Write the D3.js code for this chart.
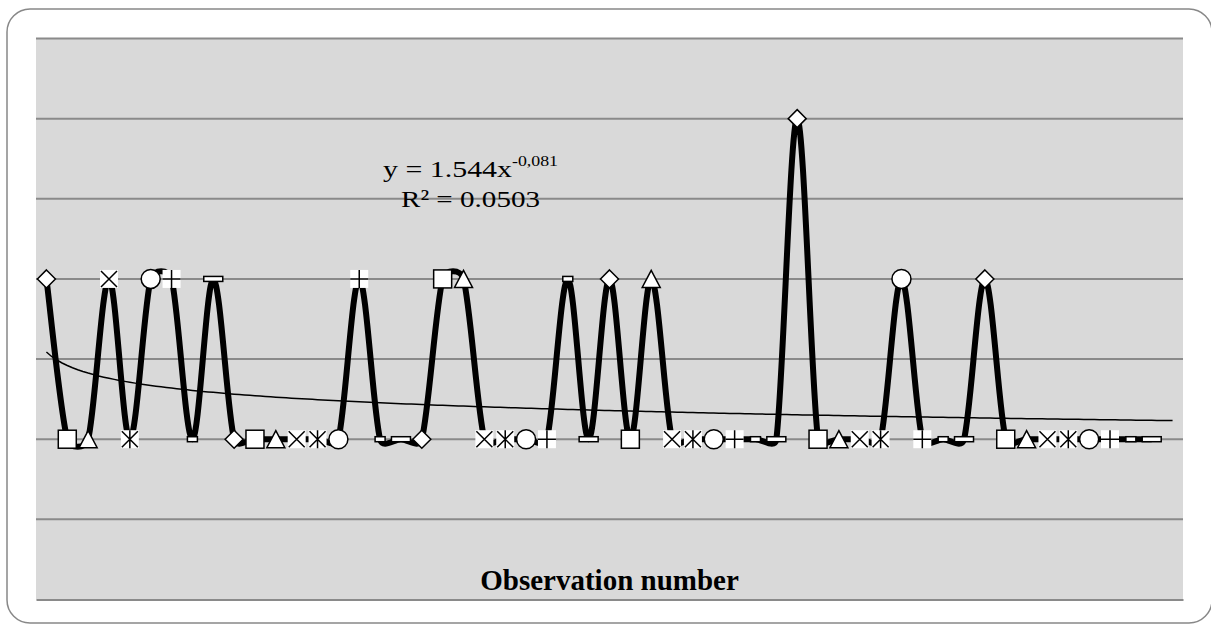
<!DOCTYPE html>
<html>
<head>
<meta charset="utf-8">
<script src="https://cdn.jsdelivr.net/npm/d3@7"></script>
<style>
  body { margin: 0; background: #fff; }
  svg { display: block; }
  text { font-family: "Liberation Serif", "Times New Roman", serif; }
</style>
</head>
<body>
<div id="chart"></div>
<script>
// Globals - values
var obsValues = [2,1,1,2,1,2,2,1,2,
                 1,1,1,1,1,1,2,1,1,
                 1,2,2,1,1,1,1,2,1,
                 2,1,2,1,1,1,1,1,1,
                 3,1,1,1,1,2,1,1,1,
                 2,1,1,1,1,1,1,1,1];
var categoryCount = 55;
var gridValues = [0.5, 1, 1.5, 2, 2.5, 3, 3.5];
var markerCycle = ["diamond","square","triangle","x","star","circle","plus","dash","longdash"];
var trendA = 1.544, trendB = -0.081;
var axisTitle = "Observation number";
var eqMain = "y = 1.544x", eqExp = "-0,081", eqR2 = "R² = 0.0503";

var W = 1211, H = 624;
var plot = {left: 36, right: 1183, top: 38.5, bottom: 599.5};

var svg = d3.select("#chart").append("svg")
  .attr("width", W).attr("height", H);

// outer chart frame
svg.append("rect")
  .attr("x", 7).attr("y", 9).attr("width", 1205).attr("height", 614)
  .attr("rx", 23).attr("ry", 23)
  .attr("fill", "#fff").attr("stroke", "#888").attr("stroke-width", 1.5);

var x = d3.scaleLinear().domain([0.5, categoryCount + 0.5]).range([plot.left, plot.right]);
var y = d3.scaleLinear().domain([0, 3.5]).range([plot.bottom, plot.top]);

// plot area
svg.append("rect")
  .attr("x", plot.left).attr("y", plot.top)
  .attr("width", plot.right - plot.left).attr("height", plot.bottom - plot.top)
  .attr("fill", "#d9d9d9");

svg.append("g").selectAll("line")
  .data(gridValues)
  .enter().append("line")
    .attr("x1", plot.left).attr("x2", plot.right)
    .attr("y1", function(d){ return y(d); })
    .attr("y2", function(d){ return y(d); })
    .attr("stroke", "#8a8a8a").attr("stroke-width", 2);

// category axis (no labels)
var xAxis = svg.append("g")
  .attr("transform", "translate(0," + y(0) + ")")
  .call(d3.axisBottom(x).tickValues([]).tickSizeOuter(0));
xAxis.select(".domain").attr("stroke", "#8a8a8a").attr("stroke-width", 2);

svg.append("text")
  .attr("x", (plot.left + plot.right) / 2).attr("y", 590)
  .attr("text-anchor", "middle")
  .attr("font-size", 29).attr("font-weight", "bold")
  .text(axisTitle);

var data = obsValues.map(function(v, i){
  return {obs: i + 1, value: v, marker: markerCycle[i % markerCycle.length]};
});

// spreadsheet-style smoothing: bezier with tension 1/6, control arm capped at half the segment
function smoothPath(pts){
  var p = d3.path();
  function dist(a, b){ return Math.hypot(b[0]-a[0], b[1]-a[1]); }
  p.moveTo(pts[0][0], pts[0][1]);
  for(var i = 0; i < pts.length - 1; i++){
    var p0 = pts[Math.max(i-1, 0)], p1 = pts[i], p2 = pts[i+1], p3 = pts[Math.min(i+2, pts.length-1)];
    var d12 = dist(p1, p2), d02 = dist(p0, p2), d13 = dist(p1, p3);
    var f1 = 1/6, f2 = 1/6;
    if(d02 / 6 > d12 / 2) f1 = d12 / (2 * d02);
    if(d13 / 6 > d12 / 2) f2 = d12 / (2 * d13);
    p.bezierCurveTo(
      p1[0] + (p2[0]-p0[0]) * f1, p1[1] + (p2[1]-p0[1]) * f1,
      p2[0] - (p3[0]-p1[0]) * f2, p2[1] - (p3[1]-p1[1]) * f2,
      p2[0], p2[1]);
  }
  return p.toString();
}

var linePts = data.map(function(d){ return [x(d.obs), y(d.value)]; });

svg.append("path")
  .attr("d", smoothPath(linePts))
  .attr("fill", "none").attr("stroke", "#000")
  .attr("stroke-width", 6).attr("stroke-linejoin", "round");

// power trendline from the displayed equation
var trendPts = d3.range(1, categoryCount + 0.01, 0.25).map(function(t){
  return {obs: t, value: trendA * Math.pow(t, trendB)};
});
svg.append("path")
  .datum(trendPts)
  .attr("d", d3.line()
    .x(function(d){ return x(d.obs); })
    .y(function(d){ return y(d.value); }))
  .attr("fill", "none").attr("stroke", "#000").attr("stroke-width", 1.5);

// markers
function drawMarker(g, type){
  var s = 9;
  if(type === "diamond"){
    g.append("path").attr("d", "M0,-9L9,0L0,9L-9,0Z")
      .attr("fill", "#fff").attr("stroke", "#000").attr("stroke-width", 1.5);
  } else if(type === "square"){
    g.append("rect").attr("x", -s).attr("y", -s).attr("width", 2*s).attr("height", 2*s)
      .attr("fill", "#fff").attr("stroke", "#000").attr("stroke-width", 1.5);
  } else if(type === "triangle"){
    g.append("path").attr("d", "M0,-8.5L9,8.5L-9,8.5Z")
      .attr("fill", "#fff").attr("stroke", "#000").attr("stroke-width", 1.5);
  } else if(type === "circle"){
    g.append("circle").attr("r", 9.5)
      .attr("fill", "#fff").attr("stroke", "#000").attr("stroke-width", 1.5);
  } else if(type === "dash" || type === "longdash"){
    var w = type === "dash" ? 10 : 19;
    g.append("rect").attr("x", -w/2).attr("y", -2.5).attr("width", w).attr("height", 5)
      .attr("fill", "#fff").attr("stroke", "#000").attr("stroke-width", 1.5);
  } else {
    g.append("rect").attr("x", -s).attr("y", -s).attr("width", 2*s).attr("height", 2*s)
      .attr("fill", "#fff");
    var d = "";
    if(type === "x" || type === "star") d += "M-8,-8L8,8M8,-8L-8,8";
    if(type === "star") d += "M0,-9L0,9";
    if(type === "plus") d += "M0,-9L0,9M-9,0L9,0";
    g.append("path").attr("d", d).attr("stroke", "#000").attr("stroke-width", 1.5);
  }
}

svg.append("g").selectAll("g")
  .data(data)
  .enter().append("g")
    .attr("transform", function(d){ return "translate(" + x(d.obs) + "," + y(d.value) + ")"; })
    .each(function(d){ drawMarker(d3.select(this), d.marker); });

// trendline label
var lbl = svg.append("g");
lbl.append("text").attr("x", 383).attr("y", 176.5)
  .attr("font-size", 24).attr("textLength", 129).attr("lengthAdjust", "spacingAndGlyphs")
  .text(eqMain);
lbl.append("text").attr("x", 512).attr("y", 166)
  .attr("font-size", 15).attr("textLength", 46).attr("lengthAdjust", "spacingAndGlyphs")
  .text(eqExp);
lbl.append("text").attr("x", 401).attr("y", 206.5)
  .attr("font-size", 24).attr("textLength", 139).attr("lengthAdjust", "spacingAndGlyphs")
  .text(eqR2);
</script>
</body>
</html>
